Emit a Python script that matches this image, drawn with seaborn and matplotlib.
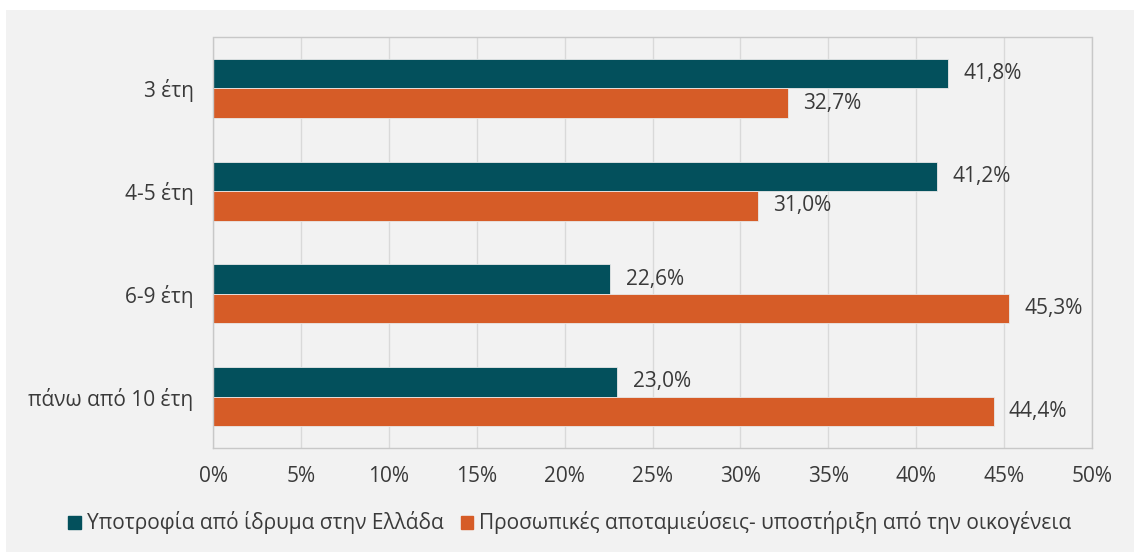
import matplotlib.pyplot as plt
import pandas as pd
import seaborn as sns
from matplotlib.patches import Rectangle

# data
categories = ["3 έτη", "4-5 έτη", "6-9 έτη", "πάνω από 10 έτη"]
series_names = ["Υποτροφία από ίδρυμα στην Ελλάδα",
                "Προσωπικές αποταμιεύσεις- υποστήριξη από την οικογένεια"]
greece = [41.8, 41.2, 22.6, 23.0]
family = [32.7, 31.0, 45.3, 44.4]
x_ticks = [0, 5, 10, 15, 20, 25, 30, 35, 40, 45, 50]

colors = ["#03505c", "#d65c27"]
bg = "#f2f2f2"
text_col = "#3a3a3a"
fs = 15

df = pd.DataFrame({
    "category": categories * 2,
    "value": greece + family,
    "series": [series_names[0]] * 4 + [series_names[1]] * 4,
})

sns.set_style("white")
plt.rcParams["font.family"] = ["Open Sans", "DejaVu Sans"]
plt.rcParams["text.color"] = text_col

fig = plt.figure(figsize=(11.34, 5.52), dpi=100, facecolor="white")
# grey chart area with a thin white margin on left / top
fig.patches.append(Rectangle((6 / 1134, 0), 1 - 6 / 1134, (552 - 10) / 552,
                             transform=fig.transFigure, facecolor=bg,
                             edgecolor="none", zorder=-5))

ax = fig.add_axes([213 / 1134, 1 - 448 / 552, (1092 - 213) / 1134, (448 - 37) / 552])
ax.set_facecolor(bg)

sns.barplot(
    data=df,
    y="category",
    x="value",
    hue="series",
    hue_order=series_names,
    order=categories,
    orient="h",
    palette=colors,
    width=0.575,
    edgecolor="#e8e8e8",
    linewidth=0.6,
    saturation=1,
    legend=False,
    ax=ax,
)

ax.set_xlim(0, 50)
ax.set_ylim(3.5, -0.5)
ax.set_xticks(x_ticks)
ax.set_xticklabels([f"{t}%" for t in x_ticks])
ax.set_xlabel("")
ax.set_ylabel("")
ax.tick_params(axis="both", length=0, labelsize=fs, colors=text_col)
ax.tick_params(axis="x", pad=13)
ax.tick_params(axis="y", pad=14)

ax.grid(axis="x", color="#d9d9d9", linewidth=1)
ax.set_axisbelow(True)
for s in ax.spines.values():
    s.set_visible(True)
    s.set_color("#c8c8c8")
    s.set_linestyle((0, (1, 1)))
    s.set_linewidth(1)

for cont, vals in zip(ax.containers, [greece, family]):
    ax.bar_label(cont, labels=[f"{v:.1f}%".replace(".", ",") for v in vals],
                 padding=11, fontsize=fs, color=text_col)

handles = [Rectangle((0, 0), 1, 1, color=c) for c in colors]
fig.legend(handles, series_names, loc="center", bbox_to_anchor=(570 / 1134, 1 - 523 / 552),
           ncol=2, frameon=False, fontsize=fs, handlelength=0.6, handleheight=0.6,
           handletextpad=0.3, columnspacing=0.8)

fig.savefig("out.png", dpi=100, facecolor=fig.get_facecolor())
